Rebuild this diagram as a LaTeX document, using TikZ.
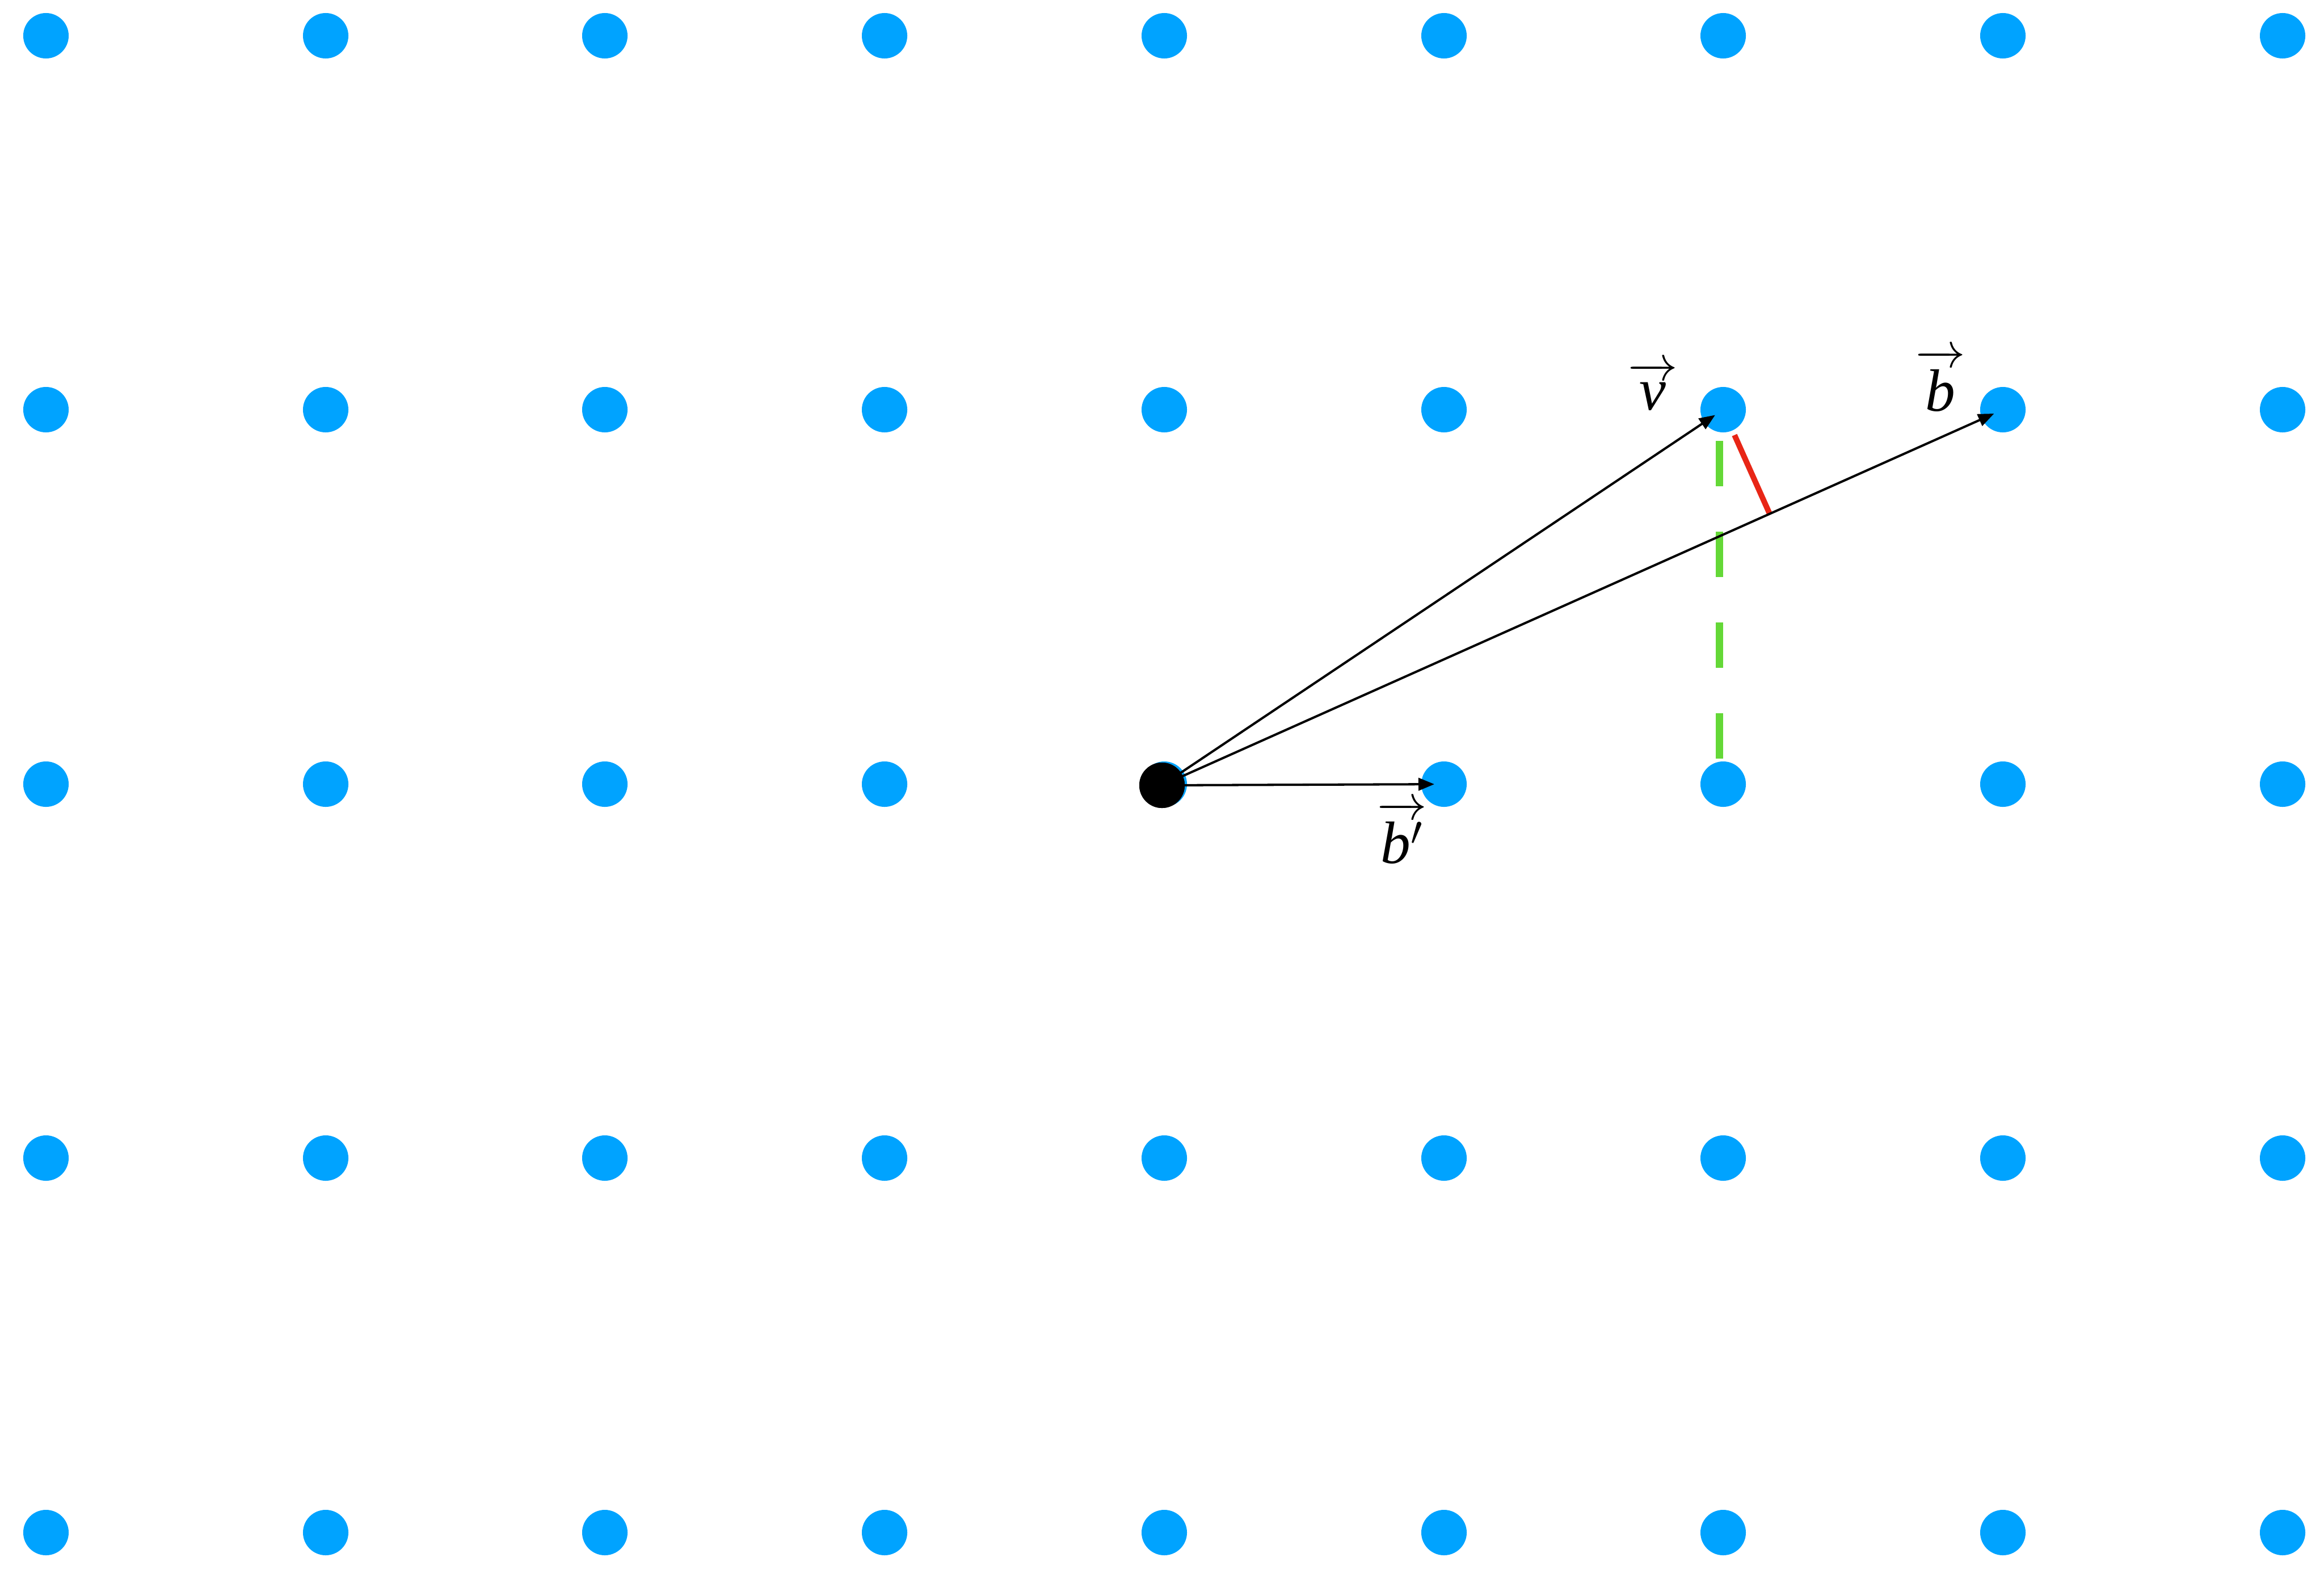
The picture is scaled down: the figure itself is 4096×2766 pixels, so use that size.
\documentclass[tikz,border=0pt]{standalone}
\usepackage{fontspec}
\setmainfont{Liberation Serif}
\usetikzlibrary{arrows.meta,calc}
\definecolor{latblue}{RGB}{0,163,255}
\definecolor{projgreen}{RGB}{100,216,55}
\definecolor{perpred}{RGB}{232,38,22}
\newcommand{\vecsym}[1]{$\overrightarrow{\raisebox{0pt}[\dimexpr\height+2pt\relax]{\itshape #1}}$}
\begin{document}
\begin{tikzpicture}[x=0.01cm,y=-0.01cm,
  latdot/.style={circle,fill=latblue,minimum size=0.8cm,inner sep=0pt},
  origindot/.style={circle,fill=black,minimum size=0.8cm,inner sep=0pt},
  vecline/.style={line width=1.15pt,-{Triangle[length=0.28cm,width=0.22cm]},shorten >=0.17cm},
  greendash/.style={projgreen,line width=3.7pt,dash pattern=on 0.8cm off 0.8cm},
  redperp/.style={perpred,line width=2.8pt},
  lbl/.style={font=\fontsize{30}{36}\selectfont,inner sep=0pt}]
\useasboundingbox (0,0) rectangle (4096,2766);
\foreach \i/\x in {0/81,1/574,2/1066,3/1559,4/2052,5/2545,6/3037,7/3530,8/4023}
  \foreach \j/\y in {0/63,1/722,2/1382,3/2041,4/2701}
    \node[latdot] (p\i\j) at (\x,\y) {};
\node[origindot] (O) at (2048,1384) {};
\coordinate (foot) at ($(O.center)!(p61.center)!(p71.center)$);
\draw[greendash,shorten <=0.55cm,shorten >=0.43cm] ([xshift=-0.07cm]p61.center) -- ([xshift=-0.07cm]p62.center);
\draw[redperp,shorten <=0.49cm] (p61.center) -- (foot);
\draw[vecline] (O.center) -- (p61.center);
\draw[vecline] (O.center) -- (p71.center);
\draw[vecline] (O.center) -- (p52.center);
\node[origindot] at (O) {};
\node[lbl,anchor=south] (lv) at (2913,724) {\vecsym{v}};
\node[lbl,anchor=south] (lb) at (3420,726) {\vecsym{b}};
\node[lbl,anchor=south] (lbp) at (2471,1523) {\vecsym{b$'$}};
\end{tikzpicture}
\end{document}
